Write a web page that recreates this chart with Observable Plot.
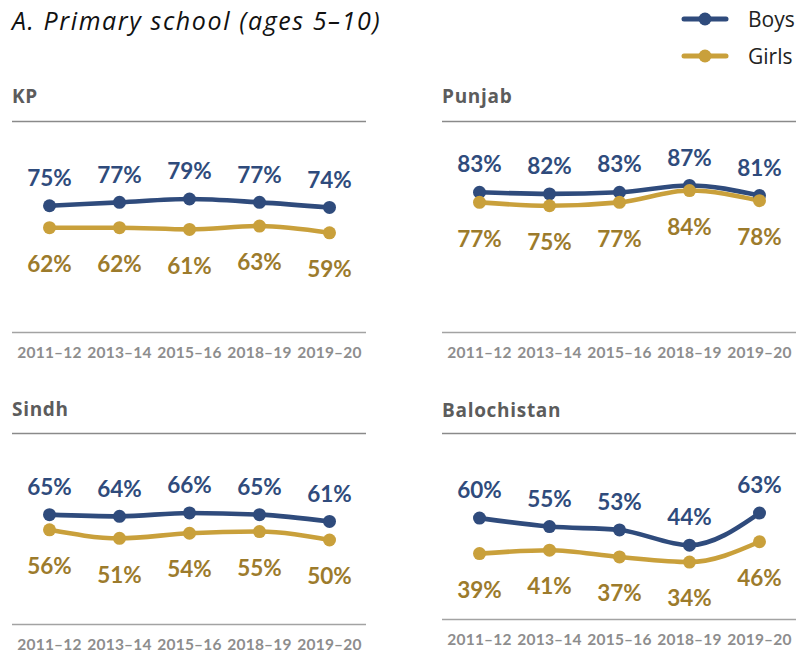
<!DOCTYPE html>
<html>
<head>
<meta charset="utf-8">
<script src="https://cdn.jsdelivr.net/npm/d3@7"></script>
<script src="https://cdn.jsdelivr.net/npm/@observablehq/plot@0.6"></script>
<style>
  body { margin: 0; background: #fff; }
  #root { position: relative; width: 798px; height: 652px; overflow: hidden; font-family: Lato, sans-serif; }
  .abs { position: absolute; white-space: nowrap; }
  #title { left: 12px; top: 8px; font-family: "Open Sans", sans-serif; font-style: italic; font-size: 25px; line-height: 25px; letter-spacing: 1.6px; color: #111; }
  .ptitle { font-family: "Open Sans", sans-serif; font-weight: 700; font-size: 19px; line-height: 19px; color: #5c5c5c; letter-spacing: 0.7px; }
  .panel svg { overflow: visible; }
  .panel g[aria-label="x-axis tick label"] text { letter-spacing: 0.2px; }
</style>
</head>
<body>
<div id="root">
  <div id="title" class="abs">A. Primary school (ages 5–10)</div>
</div>
<script>
// ---- data ----
const years = ["2011–12", "2013–14", "2015–16", "2018–19", "2019–20"];
const series = ["Boys", "Girls"];
const regions = ["KP", "Punjab", "Sindh", "Balochistan"];
const boysKP = [75, 77, 79, 77, 74];
const girlsKP = [62, 62, 61, 63, 59];
const boysPunjab = [83, 82, 83, 87, 81];
const girlsPunjab = [77, 75, 77, 84, 78];
const boysSindh = [65, 64, 66, 65, 61];
const girlsSindh = [56, 51, 54, 55, 50];
const boysBalochistan = [60, 55, 53, 44, 63];
const girlsBalochistan = [39, 41, 37, 34, 46];

const values = {
  KP: [boysKP, girlsKP],
  Punjab: [boysPunjab, girlsPunjab],
  Sindh: [boysSindh, girlsSindh],
  Balochistan: [boysBalochistan, girlsBalochistan]
};

// ---- styling ----
const NAVY = "#2f4b7c";
const GOLD = "#c9a03b";
const GOLD_TEXT = "#9c7b2c";
const PX_PER_PT = 1.69;

// layout of each panel: left, line under title, baseline, title top
const layout = {
  KP:          { left: 12,  lineY: 121, base: 332, titleTop: 87 },
  Punjab:      { left: 442, lineY: 121, base: 332, titleTop: 87 },
  Sindh:       { left: 12,  lineY: 433, base: 624, titleTop: 400 },
  Balochistan: { left: 442, lineY: 433, base: 619, titleTop: 401 }
};

const root = document.getElementById("root");

for (const region of regions) {
  const L = layout[region];
  const [boys, girls] = values[region];
  const data = [];
  years.forEach((yr, i) => {
    data.push({ region, year: yr, sex: "Boys", value: boys[i] });
    data.push({ region, year: yr, sex: "Girls", value: girls[i] });
  });
  const boysData = data.filter(d => d.sex === "Boys");
  const girlsData = data.filter(d => d.sex === "Girls");

  const mt = 2, mb = 34;
  const H = L.base - L.lineY;
  const yMax = H / PX_PER_PT;

  const chart = Plot.plot({
    width: 354,
    height: mt + H + mb,
    marginTop: mt,
    marginBottom: mb,
    marginLeft: 0,
    marginRight: 0,
    style: { fontFamily: "Lato, sans-serif", fontSize: "15.5px", fontWeight: "bold", color: "#8d8d8d", background: "transparent", overflow: "visible" },
    x: { type: "point", domain: years, padding: 0.5, tickSize: 0, tickPadding: 14, label: null },
    y: { domain: [0, yMax], axis: null },
    color: { domain: series, range: [NAVY, GOLD] },
    marks: [
      Plot.ruleY([yMax], { stroke: "#8a8a8a", strokeWidth: 1.4 }),
      Plot.ruleY([0], { stroke: "#a3a3a3", strokeWidth: 1.4 }),
      Plot.line(data, { x: "year", y: "value", stroke: "sex", z: "sex", strokeWidth: 4.6, curve: "monotone-x" }),
      Plot.dot(data, { x: "year", y: "value", fill: "sex", r: 6.5 }),
      Plot.text(boysData, { x: "year", y: "value", text: d => d.value + "%", dy: -27, fill: NAVY, fontSize: 22.5, fontWeight: "bold" }),
      Plot.text(girlsData, { x: "year", y: "value", text: d => d.value + "%", dy: 37, fill: GOLD_TEXT, fontSize: 22.5, fontWeight: "bold" })
    ]
  });

  const wrap = document.createElement("div");
  wrap.className = "abs panel";
  wrap.style.left = L.left + "px";
  wrap.style.top = (L.lineY - mt) + "px";
  wrap.appendChild(chart);
  root.appendChild(wrap);

  const t = document.createElement("div");
  t.className = "abs ptitle";
  t.style.left = L.left + "px";
  t.style.top = L.titleTop + "px";
  t.textContent = region;
  root.appendChild(t);
}

// ---- legend ----
const legendColors = [NAVY, GOLD];
const legendY = [19, 56];
const ns = "http://www.w3.org/2000/svg";
const leg = document.createElementNS(ns, "svg");
leg.setAttribute("width", 122);
leg.setAttribute("height", 76);
leg.style.position = "absolute";
leg.style.left = "676px";
leg.style.top = "0px";
series.forEach((s, i) => {
  const y = legendY[i];
  const line = document.createElementNS(ns, "line");
  line.setAttribute("x1", 8); line.setAttribute("x2", 50);
  line.setAttribute("y1", y); line.setAttribute("y2", y);
  line.setAttribute("stroke", legendColors[i]);
  line.setAttribute("stroke-width", 5);
  line.setAttribute("stroke-linecap", "round");
  leg.appendChild(line);
  const c = document.createElementNS(ns, "circle");
  c.setAttribute("cx", 29); c.setAttribute("cy", y); c.setAttribute("r", 6.5);
  c.setAttribute("fill", legendColors[i]);
  leg.appendChild(c);
  const tx = document.createElementNS(ns, "text");
  tx.setAttribute("x", 72); tx.setAttribute("y", y + 7.5);
  tx.setAttribute("font-family", "Open Sans, sans-serif");
  tx.setAttribute("font-size", 21);
  tx.setAttribute("fill", "#222");
  tx.textContent = s;
  leg.appendChild(tx);
});
root.appendChild(leg);
</script>
</body>
</html>
